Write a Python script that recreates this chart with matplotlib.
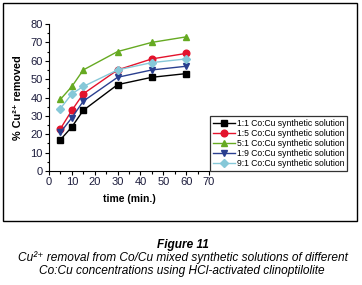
import matplotlib
matplotlib.use("Agg")
import matplotlib.pyplot as plt
from matplotlib.patches import Rectangle
from matplotlib.ticker import MultipleLocator

plt.rcParams["font.family"] = ["Liberation Sans", "DejaVu Sans"]

time_min = [5, 10, 15, 30, 45, 60]
r_1_1 = [17, 24, 33, 47, 51, 53]
r_1_5 = [23, 33, 42, 55, 61, 64]
r_5_1 = [39, 46, 55, 65, 70, 73]
r_1_9 = [21, 29, 38, 51, 55, 57]
r_9_1 = [34, 42, 46, 55, 59, 61]

series = [
    ("1:1 Co:Cu synthetic solution", r_1_1, "#000000", "s"),
    ("1:5 Co:Cu synthetic solution", r_1_5, "#e3132c", "o"),
    ("5:1 Co:Cu synthetic solution", r_5_1, "#66aa22", "^"),
    ("1:9 Co:Cu synthetic solution", r_1_9, "#2a3f8f", "v"),
    ("9:1 Co:Cu synthetic solution", r_9_1, "#86c8d8", "D"),
]

W, H = 362, 285
fig = plt.figure(figsize=(W / 100, H / 100), dpi=100)

# outer frame around the plot
fig.patches.append(Rectangle((3 / W, 1 - 221 / H), 354 / W, 218 / H,
                             transform=fig.transFigure, fill=False,
                             edgecolor="black", linewidth=1.0))

ax = fig.add_axes([49 / W, 1 - 171 / H, 160 / W, 147 / H])
for label, vals, col, mk in series:
    ms = 4.0 if mk == "D" else 4.8
    ax.plot(time_min, vals, color=col, marker=mk, markersize=ms,
            linewidth=1.0, label=label)

ax.set_xlim(0, 70)
ax.set_ylim(0, 80)
ax.xaxis.set_major_locator(MultipleLocator(10))
ax.xaxis.set_minor_locator(MultipleLocator(5))
ax.yaxis.set_major_locator(MultipleLocator(10))
ax.yaxis.set_minor_locator(MultipleLocator(5))
ax.tick_params(which="both", direction="out", width=0.8, labelsize=8,
               labelcolor="#1c1c3c", pad=1.5)
ax.tick_params(which="major", length=3)
ax.tick_params(which="minor", length=1.8)
for s in ("top", "right"):
    ax.spines[s].set_visible(False)
for s in ("left", "bottom"):
    ax.spines[s].set_linewidth(0.8)

ax.set_xlabel("time (min.)", fontsize=7.5, fontweight="bold", labelpad=5)
ax.set_ylabel("% Cu²⁺ removed", fontsize=7.8, fontweight="bold", labelpad=5)

leg = ax.legend(loc="lower left", bbox_to_anchor=(1.005, 0.0), fontsize=6.2,
                frameon=True, fancybox=False, borderpad=0.35,
                handlelength=2.6, handletextpad=0.2, labelspacing=0.12,
                borderaxespad=0.0)
leg.get_frame().set_edgecolor("black")
leg.get_frame().set_linewidth(0.9)

fig.text(183 / W, 1 - 245 / H, "Figure 11", ha="center", va="center",
         fontsize=8.6, fontweight="bold", style="italic")
fig.text(183 / W, 1 - 258 / H,
         "Cu²⁺ removal from Co/Cu mixed synthetic solutions of different",
         ha="center", va="center", fontsize=8.6, style="italic")
fig.text(182 / W, 1 - 271 / H,
         "Co:Cu concentrations using HCl-activated clinoptilolite",
         ha="center", va="center", fontsize=8.6, style="italic")

fig.savefig("out.png", dpi=100)
